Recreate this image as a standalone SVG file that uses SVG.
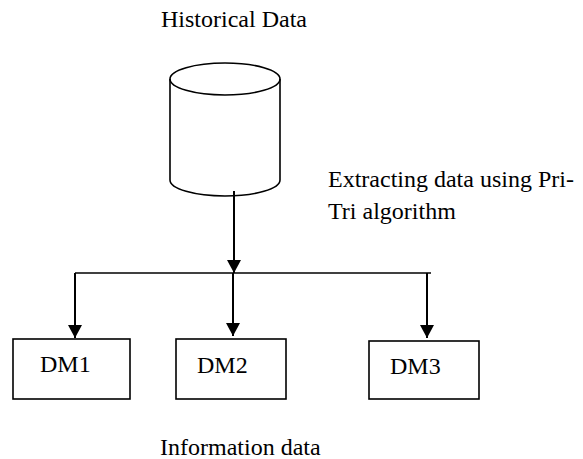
<svg xmlns="http://www.w3.org/2000/svg" width="583" height="459" viewBox="0 0 583 459">
<defs>
<style>
text{font-family:"Liberation Serif","Times New Roman",serif;font-size:24px;fill:#000}
.ln{stroke:#000;stroke-width:2;fill:none}
.thin{stroke:#000;stroke-width:1.6;fill:none}
.box{stroke:#000;stroke-width:1.6;fill:#fff}
</style>
<marker id="ah" markerUnits="userSpaceOnUse" markerWidth="16" markerHeight="14" refX="13" refY="7" orient="auto">
<path d="M0,0 L13,7 L0,14 Z" fill="#000"/>
</marker>
</defs>
<rect width="583" height="459" fill="#fff"/>
<g id="historical">
<text x="161" y="27">Historical Data</text>
<path class="thin" d="M170,79 L170,180 A55,16 0 0 0 280,180 L280,79"/>
<ellipse class="thin" cx="225" cy="79" rx="55" ry="16"/>
</g>
<g id="extract-label">
<text x="328" y="187">Extracting data using Pri-</text>
<text x="328" y="219">Tri algorithm</text>
</g>
<g id="connectors">
<line class="ln" x1="234" y1="191" x2="234" y2="273" marker-end="url(#ah)"/>
<line class="thin" x1="75" y1="273" x2="431" y2="273"/>
<line class="ln" x1="75" y1="273" x2="75" y2="338" marker-end="url(#ah)"/>
<line class="ln" x1="233" y1="273" x2="233" y2="336" marker-end="url(#ah)"/>
<line class="ln" x1="427" y1="273" x2="427" y2="338" marker-end="url(#ah)"/>
</g>
<g id="dm1">
<rect class="box" x="13" y="339" width="117" height="60"/>
<text x="40" y="372">DM1</text>
</g>
<g id="dm2">
<rect class="box" x="176" y="339" width="110" height="60"/>
<text x="197" y="373">DM2</text>
</g>
<g id="dm3">
<rect class="box" x="369" y="341" width="110" height="58"/>
<text x="390" y="374">DM3</text>
</g>
<g id="info-label">
<text x="160" y="455">Information data</text>
</g>
</svg>
